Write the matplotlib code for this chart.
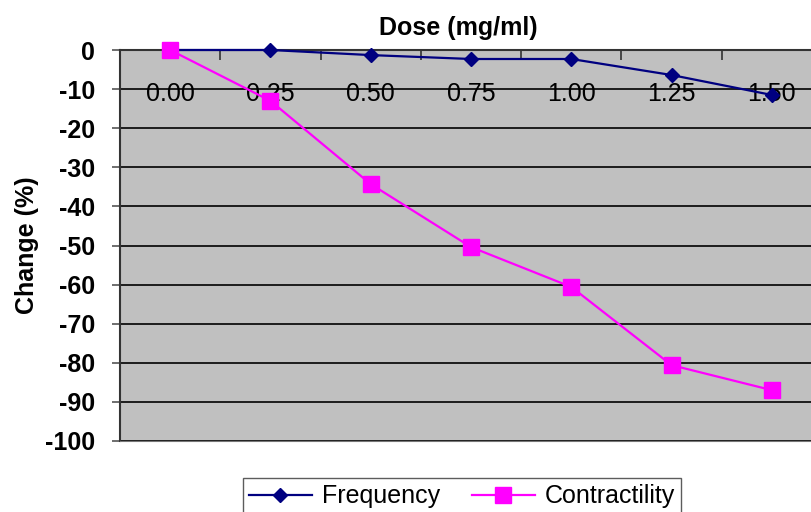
import numpy as np
import matplotlib.pyplot as plt
from matplotlib.ticker import FixedLocator

# Data
doses = ["0.00", "0.25", "0.50", "0.75", "1.00", "1.25", "1.50"]
frequency = [0, 0, -1.3, -2.3, -2.3, -6.4, -11.5]
contractility = [0, -13, -34.3, -50.4, -60.6, -80.6, -87]
y_ticks = list(range(-100, 1, 10))

plt.rcParams['font.family'] = ['Liberation Sans', 'DejaVu Sans']

fig = plt.figure(figsize=(8.12, 5.12), dpi=100)
ax = fig.add_axes([120 / 812, 1 - 441 / 512, 702 / 812, 391 / 512])
ax.set_facecolor("#c0c0c0")

x = np.arange(len(doses))
ax.plot(x, frequency, color="#000080", marker="D", markersize=7, linewidth=1.6,
        label="Frequency", clip_on=False, zorder=3)
ax.plot(x, contractility, color="#ff00ff", marker="s", markersize=11, linewidth=1.6,
        label="Contractility", clip_on=False, zorder=3)

ax.set_xlim(-0.5, len(doses) - 0.5)
ax.set_ylim(-100, 0)
ax.set_yticks(y_ticks)
ax.set_yticklabels([str(v) for v in y_ticks], fontsize=18, fontweight="bold")
ax.yaxis.grid(True, color="black", linewidth=1.2)
ax.set_axisbelow(True)

# category labels sit just under the top axis line, tick marks between categories
ax.xaxis.set_ticks_position("top")
ax.set_xticks(x)
ax.set_xticklabels(doses, fontsize=18)
ax.tick_params(axis="x", which="major", length=0, pad=-40)
ax.xaxis.set_minor_locator(FixedLocator(np.arange(-0.5, len(doses), 1.0)))
ax.tick_params(axis="x", which="minor", direction="in", length=7, width=1.2, color="#333333")
ax.tick_params(axis="y", direction="out", length=6, width=1.2, color="#555555", pad=12)

for side in ["left", "top"]:
    ax.spines[side].set_color("#333333")
    ax.spines[side].set_linewidth(1.5)
ax.spines["bottom"].set_color("#777777")
ax.spines["right"].set_visible(False)

fig.text(458 / 812, 1 - 28 / 512, "Dose (mg/ml)", ha="center", va="center",
         fontsize=18, fontweight="bold")
ax.set_ylabel("Change (%)", fontsize=18, fontweight="bold")
ax.yaxis.set_label_coords(-0.115, 0.5)

fig.legend(loc="upper center", bbox_to_anchor=(462 / 812, 1 - 478 / 512), ncol=2,
           fontsize=18, frameon=True, fancybox=False, edgecolor="#333333",
           handlelength=2.5, handletextpad=0.4, columnspacing=1.3, borderpad=0.25,
           borderaxespad=0)

fig.savefig("out.png", dpi=100)
